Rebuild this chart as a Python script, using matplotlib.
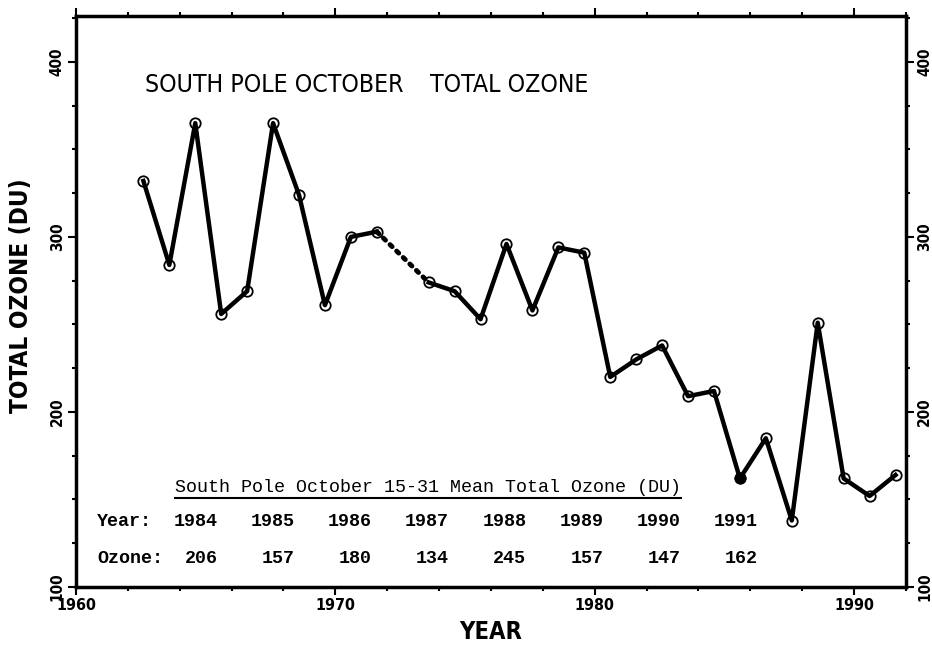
import numpy as np
import matplotlib.pyplot as plt
from matplotlib.lines import Line2D
from matplotlib.ticker import MultipleLocator

# South Pole October total ozone
years = np.array([1962, 1963, 1964, 1965, 1966, 1967, 1968, 1969, 1970, 1971,
                  1973, 1974, 1975, 1976, 1977, 1978, 1979, 1980, 1981, 1982,
                  1983, 1984, 1985, 1986, 1987, 1988, 1989, 1990, 1991])
ozone = np.array([332, 284, 365, 256, 269, 365, 324, 261, 300, 303,
                  274, 269, 253, 296, 258, 294, 291, 220, 230, 238,
                  209, 212, 162, 185, 138, 251, 162, 152, 164])
filled_year = 1985

# table of October 15-31 means
table_years = [1984, 1985, 1986, 1987, 1988, 1989, 1990, 1991]
table_ozone = [206, 157, 180, 134, 245, 157, 147, 162]

x = years + 0.6   # October, plotted within the year

plt.rcParams['font.family'] = ['DejaVu Sans']
plt.rcParams['font.stretch'] = 'condensed'

fig = plt.figure(figsize=(9.32, 6.47), dpi=100)
ax = fig.add_axes([0.0815, 0.0927, 0.8905, 0.882])

# split at the missing year
gap = np.where(np.diff(years) > 1)[0][0] + 1
ax.plot(x[:gap], ozone[:gap], color='black', lw=3.2, zorder=2)
ax.plot(x[gap:], ozone[gap:], color='black', lw=3.2, zorder=2)
ax.plot(x[gap-1:gap+1], ozone[gap-1:gap+1], color='black', lw=3.5,
        ls=(0, (0.6, 1.3)), dash_capstyle='round', zorder=2)
ax.plot(x, ozone, ls='none', marker='o', ms=7.5, mfc='none', mec='black',
        mew=1.3, zorder=3)
f = years == filled_year
ax.plot(x[f], ozone[f], ls='none', marker='o', ms=7.5, mfc='black',
        mec='black', zorder=4)

ax.set_xlim(1960, 1992)
ax.set_ylim(100, 426)
ax.xaxis.set_major_locator(MultipleLocator(10))
ax.xaxis.set_minor_locator(MultipleLocator(2))
ax.yaxis.set_major_locator(MultipleLocator(100))
ax.yaxis.set_minor_locator(MultipleLocator(25))
ax.tick_params(which='both', direction='out', top=True, right=True,
               labelright=True, width=1.5)
ax.tick_params(which='major', length=6, pad=2)
ax.tick_params(which='minor', length=3)
ax.tick_params(axis='x', labelsize=11.5)
ax.tick_params(axis='y', labelrotation=90, labelsize=11, pad=2)
for lab in ax.get_yticklabels() + ax.get_xticklabels():
    lab.set_fontweight('bold')
for lab in ax.get_yticklabels():
    lab.set_va('center')
for s in ax.spines.values():
    s.set_linewidth(2.5)

ax.set_xlabel('YEAR', fontsize=17, fontweight='bold', labelpad=5)
ax.set_ylabel('TOTAL OZONE (DU)', fontsize=17.5, fontweight='bold')
ax.yaxis.set_label_coords(-0.052, 0.51)

ax.text(0.083, 0.879, 'SOUTH POLE OCTOBER', transform=ax.transAxes,
        fontsize=17.8, va='center', ha='left')
ax.text(0.427, 0.879, 'TOTAL OZONE', transform=ax.transAxes,
        fontsize=17.8, va='center', ha='left')

# the table
mono = dict(family=['Liberation Mono', 'DejaVu Sans Mono'], fontsize=13.2,
            weight='bold', transform=ax.transAxes, va='center')
hdr = ax.text((175 - 76) / 830, (587 - 487) / 571,
              'South Pole October 15-31 Mean Total Ozone (DU)',
              ha='left', **{**mono, 'weight': 'normal'})
ax.text((97 - 76) / 830, (587 - 521) / 571, 'Year:', ha='left', **mono)
ax.text((97 - 76) / 830, (587 - 558) / 571, 'Ozone:', ha='left', **mono)
for i, (yr, oz) in enumerate(zip(table_years, table_ozone)):
    xr = (218 + i * 77.1 - 76) / 830
    ax.text(xr, (587 - 521) / 571, str(yr), ha='right', **mono)
    ax.text(xr, (587 - 558) / 571, str(oz), ha='right', **mono)

fig.canvas.draw()
bb = hdr.get_window_extent().transformed(fig.transFigure.inverted())
fig.add_artist(Line2D([bb.x0, bb.x1], [bb.y0 - 0.004, bb.y0 - 0.004],
                      transform=fig.transFigure, color='black', lw=1.5))

fig.savefig('out.png', dpi=100)
